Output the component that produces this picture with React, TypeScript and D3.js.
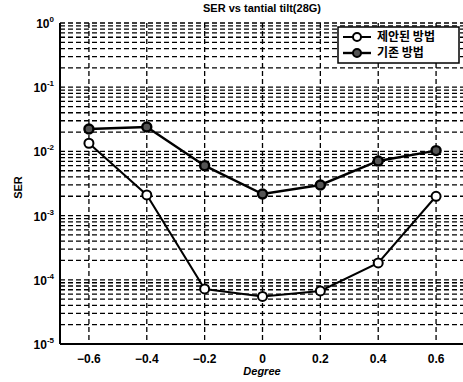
import React from "react";
import * as d3 from "d3";

const degrees = [-0.6, -0.4, -0.2, 0, 0.2, 0.4, 0.6];
const proposed = [0.0134, 0.0021, 7.2e-5, 5.5e-5, 6.7e-5, 1.83e-4, 2.0e-3];
const existing = [0.0223, 0.024, 0.006, 0.00217, 0.003, 0.0071, 0.0103];
const seriesNames = ["제안된 방법", "기존 방법"];
const xTicks = [-0.6, -0.4, -0.2, 0, 0.2, 0.4, 0.6];
const yExps = [0, -1, -2, -3, -4, -5];
const title = "SER vs tantial tilt(28G)";
const xLabel = "Degree";
const yLabel = "SER";

const W = 463;
const H = 382;
const L = 60, R = 465, T = 23, B = 344;

export default function App() {
  const x = d3.scaleLinear().domain([-0.7, 0.7]).range([L, R]);
  const y = d3.scaleLog().domain([1e-5, 1]).range([B, T]);
  const line = d3.line<number>().x((_, i) => x(degrees[i])).y((v) => y(v));

  const gridY: number[] = [];
  for (let e = -5; e < 0; e++) {
    for (let k = 1; k <= 9; k++) gridY.push(k * Math.pow(10, e));
  }
  gridY.push(1);

  const font = "Arial, 'Liberation Sans', sans-serif";
  return (
    <svg width={W} height={H} style={{ position: "absolute", left: 0, top: 0, background: "#fff" }} fontFamily={font}>
      <rect x={0} y={0} width={W} height={H} fill="#fff" />
      {gridY.map((v, i) => (
        <line key={"gy" + i} x1={L} x2={R} y1={y(v)} y2={y(v)} stroke="#000" strokeWidth={1.3} strokeDasharray="5,3" />
      ))}
      {xTicks.map((v, i) => (
        <line key={"gx" + i} x1={x(v)} x2={x(v)} y1={T} y2={B} stroke="#000" strokeWidth={1.3} strokeDasharray="5,3" />
      ))}
      <line x1={L} x2={L} y1={T} y2={B} stroke="#000" strokeWidth={2} />
      <line x1={L} x2={R} y1={B} y2={B} stroke="#000" strokeWidth={2} />
      {xTicks.map((v, i) => (
        <text key={"xt" + i} x={x(v)} y={B + 19} textAnchor="middle" fontSize={12} fontWeight="bold">
          {v === 0 ? "0" : d3.format(".1f")(v)}
        </text>
      ))}
      {yExps.map((e, i) => (
        <text key={"yt" + i} x={L - 6} y={y(Math.pow(10, e)) + 5} textAnchor="end" fontSize={12} fontWeight="bold">
          10<tspan dy={-6} fontSize={8}>{String(e)}</tspan>
        </text>
      ))}
      <text x={262} y={12} textAnchor="middle" fontSize={11} fontWeight="bold">{title}</text>
      <text x={262} y={375} textAnchor="middle" fontSize={11} fontWeight="bold" fontStyle="italic">{xLabel}</text>
      <text transform={`translate(22,${(T + B) / 2 + 4}) rotate(-90)`} textAnchor="middle" fontSize={11} fontWeight="bold">{yLabel}</text>

      <path d={line(proposed) || ""} fill="none" stroke="#000" strokeWidth={2} />
      <path d={line(existing) || ""} fill="none" stroke="#000" strokeWidth={2.4} />
      {proposed.map((v, i) => (
        <circle key={"p" + i} cx={x(degrees[i])} cy={y(v)} r={4.5} fill="#fff" stroke="#000" strokeWidth={2} />
      ))}
      {existing.map((v, i) => (
        <circle key={"e" + i} cx={x(degrees[i])} cy={y(v)} r={4.5} fill="#555" stroke="#000" strokeWidth={2.4} />
      ))}

      <rect x={338} y={27} width={121} height={36} fill="#fff" stroke="#000" strokeWidth={1.5} />
      {seriesNames.map((n, i) => {
        const ly = 37 + i * 16;
        return (
          <g key={"lg" + i}>
            <line x1={343} x2={371} y1={ly} y2={ly} stroke="#000" strokeWidth={i === 0 ? 2 : 2.4} />
            <circle cx={357} cy={ly} r={4} fill={i === 0 ? "#fff" : "#555"} stroke="#000" strokeWidth={2} />
            <text x={377} y={ly + 4} fontSize={12} fontFamily="'Noto Sans CJK KR', sans-serif" fontWeight="bold">{n}</text>
          </g>
        );
      })}
    </svg>
  );
}
